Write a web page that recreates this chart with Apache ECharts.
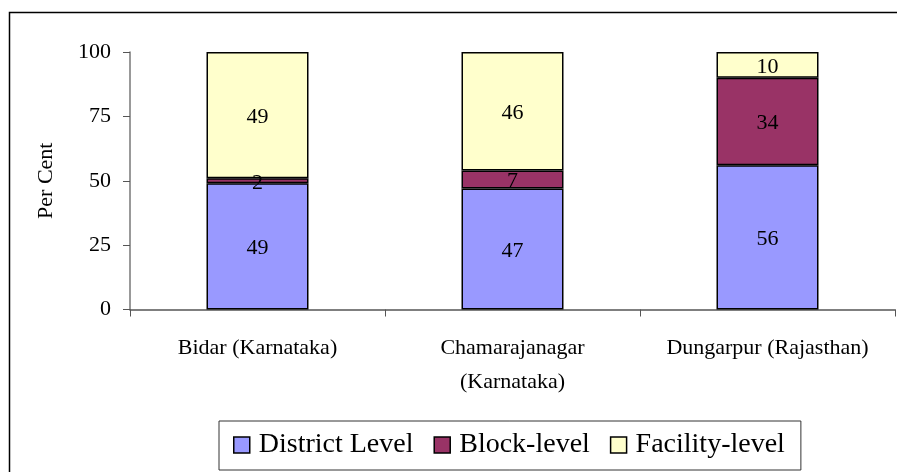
<!DOCTYPE html>
<html>
<head>
<meta charset="utf-8">
<script src="https://cdn.jsdelivr.net/npm/echarts@6/dist/echarts.min.js"></script>
<style>
  html, body { margin: 0; padding: 0; background: #fff; }
  #chart { width: 897px; height: 472px; }
</style>
</head>
<body>
<div id="chart"></div>
<script>
const districts = ['Bidar (Karnataka)', 'Chamarajanagar\n(Karnataka)', 'Dungarpur (Rajasthan)']
const districtLevel = [49, 47, 56]
const blockLevel = [2, 7, 34]
const facilityLevel = [49, 46, 10]
const yTicks = [0, 25, 50, 75, 100]

const font = 'Liberation Serif'

function barSeries(name, data, color) {
  return {
    name: name,
    type: 'bar',
    stack: 'total',
    barWidth: '40%',
    data: data,
    itemStyle: { color: color, borderColor: '#000', borderWidth: 1.5 },
    label: {
      show: true,
      position: 'inside',
      offset: [0, 2],
      color: '#000',
      fontFamily: font,
      fontSize: 22
    }
  }
}

const chart = echarts.init(document.getElementById('chart'))
chart.setOption({
  animation: false,
  textStyle: { fontFamily: font },
  graphic: [{
    type: 'rect',
    shape: { x: 9.5, y: 12.5, width: 1000, height: 600 },
    style: { fill: null, stroke: '#000', lineWidth: 1.5 },
    z: -1
  }],
  grid: { left: 130, right: 2, top: 52, bottom: 162.5 },
  legend: {
    left: 219,
    top: 421,
    padding: [10, 16, 11, 14],
    itemGap: 20,
    itemWidth: 16,
    itemHeight: 16,
    icon: 'rect',
    borderColor: '#333',
    borderWidth: 1,
    itemStyle: { borderColor: '#000', borderWidth: 1.5 },
    textStyle: { fontFamily: font, fontSize: 28, color: '#000', padding: [0, 0, 0, 4] },
    data: ['District Level', 'Block-level', 'Facility-level']
  },
  xAxis: {
    type: 'category',
    data: districts,
    axisLine: { lineStyle: { color: '#555', width: 1.5 } },
    axisTick: { show: true, length: 7, lineStyle: { color: '#555' } },
    axisLabel: { color: '#000', fontFamily: font, fontSize: 22, lineHeight: 34, margin: 22, interval: 0 }
  },
  yAxis: {
    type: 'value',
    min: yTicks[0],
    max: yTicks[yTicks.length - 1],
    interval: yTicks[1] - yTicks[0],
    name: 'Per Cent',
    nameLocation: 'middle',
    nameGap: 73,
    nameRotate: 90,
    nameTextStyle: { color: '#000', fontFamily: font, fontSize: 22 },
    splitLine: { show: false },
    axisLine: { show: true, lineStyle: { color: '#777', width: 1.5 } },
    axisTick: { show: true, length: 7, lineStyle: { color: '#555' } },
    axisLabel: { color: '#000', fontFamily: font, fontSize: 22, margin: 19 }
  },
  series: [
    barSeries('District Level', districtLevel, '#9999ff'),
    barSeries('Block-level', blockLevel, '#993366'),
    barSeries('Facility-level', facilityLevel, '#ffffcc')
  ]
})
</script>
</body>
</html>
